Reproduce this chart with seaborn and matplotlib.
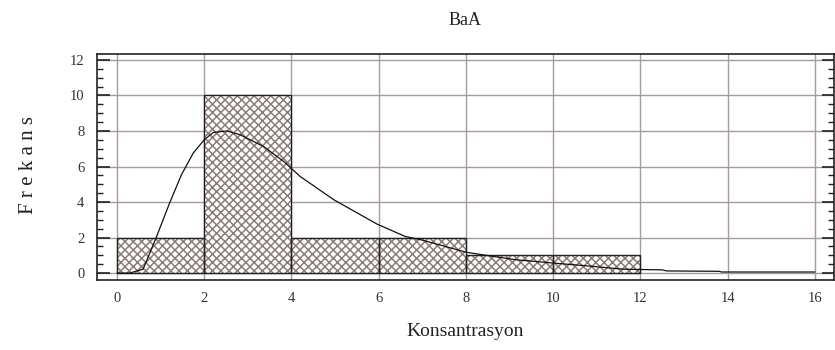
import numpy as np
import matplotlib
matplotlib.use("Agg")
import matplotlib.pyplot as plt
import seaborn as sns
from matplotlib.ticker import MultipleLocator

# Histogram bins and frequencies
bin_edges = [0, 2, 4, 6, 8, 10, 12]
bin_counts = [2, 10, 2, 2, 1, 1]
bin_centers = [1, 3, 5, 7, 9, 11]

# Fitted density curve
curve_x = [0.0, 0.29, 0.6, 0.9, 1.21, 1.48, 1.75, 2.0, 2.21, 2.52, 2.82, 3.36, 3.82,
           4.2, 4.97, 5.96, 6.61, 6.96, 7.6, 7.99, 8.38, 9.14, 10.02, 10.8, 11.6,
           12.0, 12.5, 12.6, 13.8, 13.86, 16.0]
curve_y = [0.0, 0.0, 0.22, 2.0, 3.96, 5.54, 6.76, 7.5, 7.92, 8.0, 7.79, 7.13, 6.29,
           5.44, 4.13, 2.76, 2.06, 1.88, 1.45, 1.18, 1.03, 0.75, 0.56, 0.4, 0.22,
           0.2, 0.18, 0.12, 0.1, 0.06, 0.06]

title = "BaA"
xlabel = "Konsantrasyon"
ylabel = "F r e k a n s"

sns.set_style("white")
plt.rcParams['font.family'] = ['Liberation Serif', 'DejaVu Serif']
plt.rcParams['hatch.linewidth'] = 1.1

fig = plt.figure(figsize=(8.35, 3.5), dpi=100)
ax = fig.add_axes([0.116, 0.2, 0.883, 0.646])

grid_col = '#a89c98'
hatch_col = '#8c7c78'

# hatched bars (hatch colour follows edge colour)
sns.histplot(x=bin_centers, weights=bin_counts, bins=bin_edges, ax=ax,
             color='white', edgecolor=hatch_col, linewidth=0, alpha=1,
             zorder=2)
for p in ax.patches:
    p.set_hatch('xxxx')
    p.set_facecolor('white')
    p.set_edgecolor(hatch_col)
# black outlines
sns.histplot(x=bin_centers, weights=bin_counts, bins=bin_edges, ax=ax,
             fill=False, color='#222222', linewidth=1.0, zorder=3)

sns.lineplot(x=curve_x, y=curve_y, ax=ax, color='#111111', linewidth=0.9,
             zorder=4)

ax.set_xlim(-0.46, 16.44)
ax.set_ylim(-0.39, 12.34)
ax.xaxis.set_major_locator(MultipleLocator(2))
ax.yaxis.set_major_locator(MultipleLocator(2))
ax.yaxis.set_minor_locator(MultipleLocator(0.5))
ax.grid(True, which='major', color=grid_col, linewidth=1.0, zorder=1)
ax.set_axisbelow(True)

for s in ax.spines.values():
    s.set_color('#222222')
    s.set_linewidth(1.2)

ax.tick_params(axis='y', which='major', direction='in', length=9, width=1.2,
               color='#222222', left=True, right=True, labelsize=10.5, pad=9)
ax.tick_params(axis='y', which='minor', direction='in', length=4, width=1.0,
               color='#222222', left=True, right=True)
ax.tick_params(axis='x', which='both', length=0, labelsize=10.5, pad=9)
for lab in ax.get_xticklabels() + ax.get_yticklabels():
    lab.set_color('#333333')

ax.set_title(title, fontsize=13, pad=21, color='#222222')
ax.set_xlabel(xlabel, fontsize=14, color='#222222')
ax.set_ylabel(ylabel, fontsize=15, color='#222222')
ax.xaxis.set_label_coords(0.5, -0.19)
ax.yaxis.set_label_coords(-0.08, 0.51)

fig.savefig("out.png", dpi=100)
